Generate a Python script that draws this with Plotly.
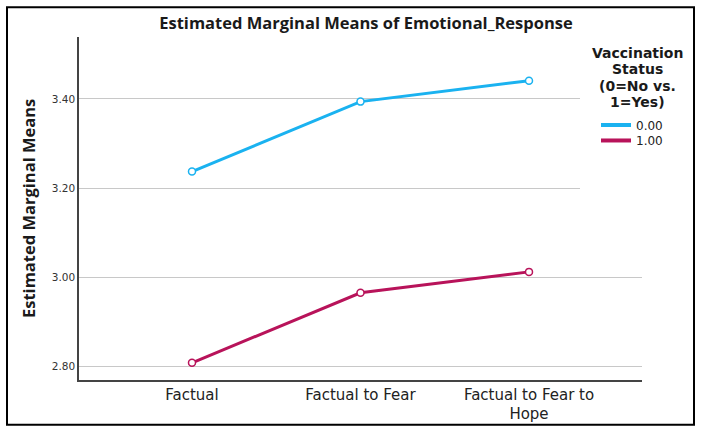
import plotly.graph_objects as go

categories = ["Factual", "Factual to Fear", "Factual to Fear to Hope"]
tick_labels = ["Factual", "Factual to Fear", "Factual to Fear to<br>Hope"]
group_names = ["0.00", "1.00"]
means_0 = [3.237, 3.394, 3.441]
means_1 = [2.808, 2.965, 3.012]
y_ticks = [2.80, 3.00, 3.20, 3.40]
y_tick_text = ["2.80", "3.00", "3.20", "3.40"]
legend_title_lines = ["Vaccination", "Status", "(0=No vs.", "1=Yes)"]

colors = ["#1AB2F0", "#B8135A"]

W, H = 702, 435
L, R, T, B = 79, 702 - 642, 37, 435 - 382
pw, ph = W - L - R, H - T - B

def px_x(p):
    return (p - L) / pw

def px_y(p):
    return (H - B - p) / ph

fig = go.Figure()
for name, vals, c in zip(group_names, [means_0, means_1], colors):
    fig.add_trace(go.Scatter(
        x=list(range(len(categories))), y=vals, mode="lines+markers",
        line=dict(color=c, width=3),
        marker=dict(symbol="circle", size=7, color="white", line=dict(color=c, width=1.5)),
        showlegend=False, hoverinfo="skip"))
legend_ids = ["legend", "legend2"]
for name, c, lid in zip(group_names, colors, legend_ids):
    fig.add_trace(go.Scatter(x=[None], y=[None], mode="lines", name=name, legend=lid,
                             line=dict(color=c, width=4)))

bold = "Open Sans"
leg_common = dict(xanchor="left", yanchor="top", bgcolor="rgba(0,0,0,0)",
                  font=dict(family="DejaVu Sans", size=12, color="#222"), itemwidth=30)
legend_item_y = [124, 139.5]

title_line_y = [53, 69.5, 86, 102]
annotations = [
    dict(text="<b>Estimated Marginal Means</b>", textangle=-90, xref="paper", yref="paper",
         x=px_x(28.5), y=px_y(209.5), xanchor="center", yanchor="middle", showarrow=False,
         font=dict(family=bold, size=16.5, color="#1a1a1a")),
]
for txt, yy in zip(legend_title_lines, title_line_y):
    annotations.append(dict(text="<b>" + txt + "</b>", xref="paper", yref="paper",
                            x=px_x(637), y=px_y(yy), xanchor="center", yanchor="middle",
                            borderpad=0, showarrow=False,
                            font=dict(family="DejaVu Sans", size=14, color="#1a1a1a")))

fig.update_layout(
    width=W, height=H,
    margin=dict(l=L, r=R, t=T, b=B),
    paper_bgcolor="white", plot_bgcolor="white",
    title=dict(text="<b>Estimated Marginal Means of Emotional_Response</b>",
               x=366 / W, xanchor="center", y=1 - 23.5 / H, yanchor="middle",
               xref="container", yref="container",
               font=dict(family=bold, size=16.5, color="#1a1a1a")),
    xaxis=dict(range=[-0.6706, 2.6706], tickmode="array",
               tickvals=list(range(len(categories))), ticktext=tick_labels,
               showgrid=False, zeroline=False, showline=True, linecolor="#444",
               linewidth=1.5, ticks="", tickfont=dict(family="DejaVu Sans", size=15, color="#222")),
    yaxis=dict(range=[2.7694, 3.539], tickmode="array", tickvals=y_ticks,
               ticktext=y_tick_text, showgrid=True, gridcolor="#c8c8c8", gridwidth=1,
               zeroline=False, showline=True, linecolor="#444", linewidth=1.5, ticks="",
               tickfont=dict(family="DejaVu Sans", size=10.5, color="#333")),
    legend=dict(x=px_x(596), y=px_y(legend_item_y[0] - 13), **leg_common),
    legend2=dict(x=px_x(596), y=px_y(legend_item_y[1] - 13), **leg_common),
    shapes=[
        dict(type="rect", xref="paper", yref="paper", x0=px_x(580), x1=px_x(643),
             y0=px_y(205), y1=px_y(36), fillcolor="white", line=dict(width=0), layer="above"),
        dict(type="rect", xref="paper", yref="paper", x0=px_x(7), x1=px_x(694),
             y0=px_y(427), y1=px_y(7), line=dict(color="black", width=2), layer="above"),
    ],
    annotations=annotations,
)

fig.write_html("out.html")
